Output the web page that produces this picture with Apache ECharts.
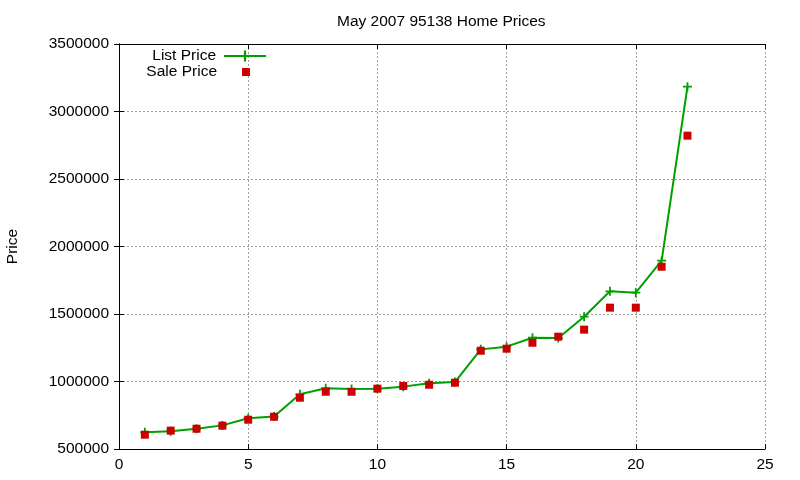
<!DOCTYPE html>
<html>
<head>
<meta charset="utf-8">
<script src="https://cdn.jsdelivr.net/npm/echarts@6/dist/echarts.min.js"></script>
<style>
  html, body { margin: 0; padding: 0; background: #fff; }
  #main { width: 800px; height: 480px; }
</style>
</head>
<body>
<div id="main"></div>
<script>
// 数据
var months = [1, 2, 3, 4, 5, 6, 7, 8, 9, 10, 11, 12, 13, 14, 15, 16, 17, 18, 19, 20, 21, 22];
var listPrice = [624000, 632000, 650000, 675000, 728000, 740000, 905000, 950000, 944000, 947000, 962000,
  987000, 996000, 1238000, 1258000, 1324000, 1322000, 1480000, 1668000, 1658000, 1895000, 3184000];
var salePrice = [606000, 636000, 650000, 673000, 717000, 739000, 880000, 924000, 924000, 947000, 967000,
  976000, 991000, 1228000, 1243000, 1287000, 1332000, 1384000, 1547000, 1547000, 1850000, 2821000];

var font = "Liberation Sans, Arial, sans-serif";
var fontSize = 15.5;
var plusIcon = "path://M4,0h2v4h4v2h-4v4h-2v-4h-4v-2h4z";

function pairs(xs, ys) {
  return xs.map(function (x, i) {
    return [x, ys[i]];
  });
}

var myChart = echarts.init(document.getElementById("main"));

var axisLine = { show: true, lineStyle: { color: "#000", width: 1 } };
var tick = { show: true, inside: true, length: 5, lineStyle: { color: "#000" } };
var grid = { show: true, lineStyle: { color: "#a0a0a0", type: [2, 2], width: 1 } };

myChart.setOption({
  animation: false,
  backgroundColor: "#fff",
  title: {
    text: "May 2007 95138 Home Prices",
    left: 332,
    top: 9,
    textStyle: { fontFamily: font, fontSize: fontSize, fontWeight: "normal", color: "#000" },
  },
  legend: [
    {
      data: ["List Price"],
      orient: "vertical",
      align: "right",
      right: 533,
      top: 48,
      padding: 0,
      itemWidth: 42,
      itemHeight: 14,
      textStyle: { fontFamily: font, fontSize: fontSize, color: "#000", padding: [0, 3, 0, 0] },
    },
    {
      data: [{ name: "Sale Price", icon: "rect" }],
      orient: "vertical",
      align: "right",
      right: 550,
      top: 64,
      padding: 0,
      itemWidth: 8,
      itemHeight: 8,
      textStyle: { fontFamily: font, fontSize: fontSize, color: "#000", padding: [0, 20, 0, 0] },
    },
  ],
  grid: {
    left: 119,
    right: 35,
    top: 44,
    bottom: 31,
    outerBoundsMode: "none",
  },
  xAxis: [
    {
      type: "value",
      min: 0,
      max: 25,
      interval: 5,
      axisLine: axisLine,
      axisTick: tick,
      splitLine: grid,
      axisLabel: { fontFamily: font, fontSize: fontSize, color: "#000", margin: 8 },
    },
    {
      type: "value",
      position: "top",
      min: 0,
      max: 25,
      interval: 5,
      axisLine: axisLine,
      axisTick: tick,
      splitLine: { show: false },
      axisLabel: { show: false },
    },
  ],
  yAxis: [
    {
      type: "value",
      min: 500000,
      max: 3500000,
      interval: 500000,
      name: "Price",
      nameLocation: "middle",
      nameRotate: 90,
      nameGap: 98,
      nameTextStyle: { fontFamily: font, fontSize: fontSize, color: "#000" },
      axisLine: axisLine,
      axisTick: tick,
      splitLine: grid,
      axisLabel: {
        fontFamily: font,
        fontSize: fontSize,
        color: "#000",
        margin: 10,
        formatter: function (v) {
          return String(v);
        },
      },
    },
    {
      type: "value",
      position: "right",
      min: 500000,
      max: 3500000,
      interval: 500000,
      axisLine: axisLine,
      axisTick: tick,
      splitLine: { show: false },
      axisLabel: { show: false },
    },
  ],
  series: [
    {
      name: "List Price",
      type: "line",
      data: pairs(months, listPrice),
      symbol: plusIcon,
      symbolSize: 9,
      showAllSymbol: true,
      itemStyle: { color: "#00a000" },
      lineStyle: { color: "#00a000", width: 2 },
      z: 2,
    },
    {
      name: "Sale Price",
      type: "scatter",
      data: pairs(months, salePrice),
      symbol: "rect",
      symbolSize: 8,
      itemStyle: { color: "#cc0000", opacity: 1 },
      z: 3,
    },
  ],
});

window.addEventListener("resize", function () {
  myChart.resize();
});
</script>
</body>
</html>
